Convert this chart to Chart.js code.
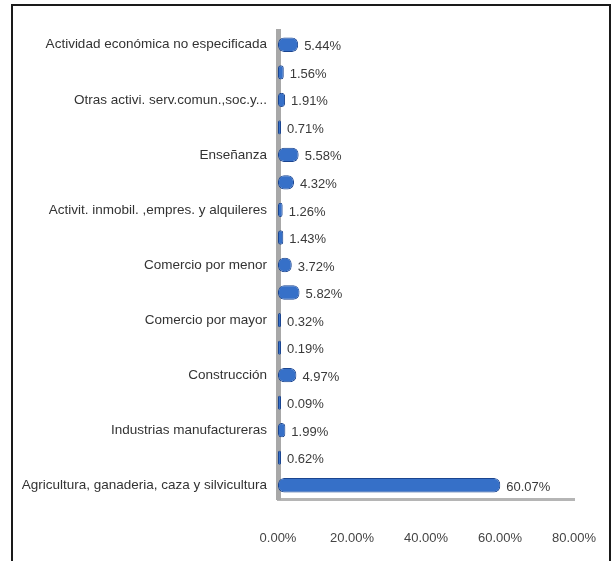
<!DOCTYPE html>
<html>
<head>
<meta charset="utf-8">
<script src="https://cdn.jsdelivr.net/npm/chart.js@4/dist/chart.umd.min.js"></script>
<style>
  html, body { margin: 0; padding: 0; background: #fff; }
  #wrap { position: relative; width: 612px; height: 561px; overflow: hidden; }
  #frame { position: absolute; left: 11px; top: 4px; width: 596px; height: 600px;
           border: 2px solid #1a1a1a; border-bottom: none; pointer-events: none; }
  canvas { position: absolute; left: 0; top: 0; }
</style>
</head>
<body>
<div id="wrap">
  <canvas id="c" width="612" height="561"></canvas>
  <div id="frame"></div>
</div>
<script>
// Categories top to bottom (only every other one is labelled in the original)
const categories = [
  "Actividad económica no especificada",
  "",
  "Otras activi. serv.comun.,soc.y...",
  "",
  "Enseñanza",
  "",
  "Activit. inmobil. ,empres. y alquileres",
  "",
  "Comercio por menor",
  "",
  "Comercio por mayor",
  "",
  "Construcción",
  "",
  "Industrias manufactureras",
  "",
  "Agricultura, ganaderia, caza y silvicultura"
];
const values = [5.44, 1.56, 1.91, 0.71, 5.58, 4.32, 1.26, 1.43, 3.72, 5.82, 0.32, 0.19, 4.97, 0.09, 1.99, 0.62, 60.07];
const xTicks = [0, 20, 40, 60, 80];

const FONT = "'Liberation Sans', Arial, sans-serif";

const valueLabels = {
  id: 'valueLabels',
  afterDatasetsDraw(chart) {
    const ctx = chart.ctx;
    const meta = chart.getDatasetMeta(0);
    ctx.save();
    ctx.font = "13px " + FONT;
    ctx.fillStyle = "#3a3a3a";
    ctx.textAlign = "left";
    ctx.textBaseline = "middle";
    meta.data.forEach((bar, i) => {
      ctx.fillText(values[i].toFixed(2) + "%", bar.x + 6, bar.y + 2);
    });
    ctx.restore();
  }
};

const ctx = document.getElementById('c').getContext('2d');
new Chart(ctx, {
  type: 'bar',
  data: {
    labels: categories,
    datasets: [{
      data: values,
      backgroundColor: function(c) {
        const el = c.element;
        if (!el || el.y === undefined) return '#3670c8';
        const h = el.height || 14;
        const g = c.chart.ctx.createLinearGradient(0, el.y - h / 2, 0, el.y + h / 2);
        g.addColorStop(0, '#7aa5e6');
        g.addColorStop(0.35, '#3a73cc');
        g.addColorStop(1, '#1d4c9c');
        return g;
      },
      borderColor: '#1b4590',
      borderWidth: 1,
      borderRadius: 6,
      borderSkipped: false,
      barPercentage: 0.52,
      categoryPercentage: 1.0,
      minBarLength: 3
    }]
  },
  options: {
    indexAxis: 'y',
    responsive: false,
    animation: false,
    layout: { padding: { top: 31, right: 38, left: 0, bottom: 0 } },
    plugins: { legend: { display: false }, tooltip: { enabled: false } },
    scales: {
      x: {
        min: 0, max: 80,
        afterBuildTicks(scale) { scale.ticks = xTicks.map(v => ({ value: v })); },
        afterFit(scale) { scale.height = 62; scale.paddingLeft = 0; scale.paddingRight = 0; },
        grid: { display: false, drawTicks: false, tickLength: 0 },
        border: { display: true, color: '#b5b5b5', width: 3 },
        ticks: {
          padding: 32,
          color: '#444',
          font: { family: FONT, size: 13 },
          callback: (v) => Number(v).toFixed(2) + "%"
        }
      },
      y: {
        afterFit(scale) { scale.width = 278; },
        grid: { display: false, drawTicks: false, tickLength: 0 },
        border: { display: true, color: '#a8a8a8', width: 5 },
        ticks: {
          autoSkip: false,
          padding: 11,
          color: '#333',
          font: { family: FONT, size: 13.5 }
        }
      }
    }
  },
  plugins: [valueLabels]
});
</script>
</body>
</html>
